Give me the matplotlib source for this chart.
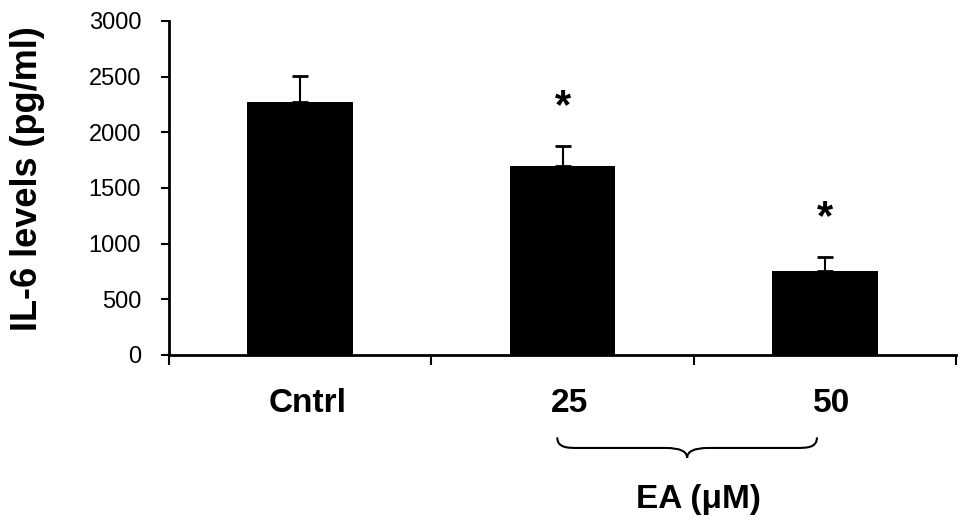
import matplotlib
matplotlib.use('Agg')
import matplotlib.pyplot as plt
from matplotlib.path import Path
from matplotlib.patches import PathPatch
from matplotlib.transforms import ScaledTranslation
import numpy as np

plt.rcParams['font.family'] = ['Liberation Sans', 'DejaVu Sans']

# datos
grupos = ['Cntrl', '25', '50']
il6 = [2270, 1700, 755]
sem = [240, 180, 125]
signif = ['', '*', '*']

fig = plt.figure(figsize=(9.69, 5.30), dpi=100)
ax = fig.add_axes([0.1744, 0.3302, 0.8122, 0.6302])

x = np.arange(len(grupos))
ax.bar(x, il6, width=0.404, color='black', zorder=2)
ax.errorbar(x, il6, yerr=[np.zeros(len(sem)), sem], fmt='none',
            ecolor='black', elinewidth=1.5, capsize=6, capthick=2, zorder=1)

# asteriscos
for xi, v, e, s in zip(x, il6, sem, signif):
    if s:
        ax.text(xi, v + e + 350, s, ha='center', va='center',
                fontsize=30, fontweight='bold')

ax.set_xlim(-0.5, len(grupos) - 0.5)
ax.set_ylim(0, 3000)
ax.set_yticks(np.arange(0, 3001, 500))
ax.tick_params(axis='y', direction='out', length=6, width=1.5, pad=14, labelsize=17)

# etiquetas en el centro, marcas en los limites de categoria
ax.set_xticks(x)
ax.set_xticklabels(grupos, fontsize=24, fontweight='bold')
ax.tick_params(axis='x', which='major', length=0, pad=24)
desplaza = ScaledTranslation(7 / 100, 0, fig.dpi_scale_trans)
for lab in ax.get_xticklabels():
    lab.set_transform(lab.get_transform() + desplaza)
ax.set_xticks(np.arange(-0.5, len(grupos)), minor=True)
ax.tick_params(axis='x', which='minor', direction='out', length=7, width=1.5)

for lado in ['top', 'right']:
    ax.spines[lado].set_visible(False)
for lado in ['left', 'bottom']:
    ax.spines[lado].set_linewidth(2)

ax.set_ylabel('IL-6 levels (pg/ml)', fontsize=26, fontweight='bold')
ax.yaxis.set_label_coords(-0.157, 0.527)

# llave bajo 25 y 50
x0, x1 = 0.98, 1.97
xc = (x0 + x1) / 2
yt, ym, yb = -740, -835, -925
dx = 0.04
verts = [(x0, yt), (x0, ym), (x0 + dx, ym), (x0 + 2*dx, ym),
         (xc - 2*dx, ym), (xc, ym), (xc, yb),
         (xc, ym), (xc + 2*dx, ym),
         (x1 - 2*dx, ym), (x1 - dx, ym), (x1, ym), (x1, yt)]
codes = [Path.MOVETO, Path.CURVE4, Path.CURVE4, Path.CURVE4,
         Path.LINETO, Path.CURVE3, Path.CURVE3,
         Path.CURVE3, Path.CURVE3,
         Path.LINETO, Path.CURVE4, Path.CURVE4, Path.CURVE4]
ax.add_patch(PathPatch(Path(verts, codes), fill=False, lw=1.5,
                       edgecolor='black', clip_on=False))

ax.text(xc + 0.045, -1300, 'EA (\u03bcM)', ha='center', va='center',
        fontsize=24, fontweight='bold', clip_on=False)

fig.savefig('out.png', dpi=100)
